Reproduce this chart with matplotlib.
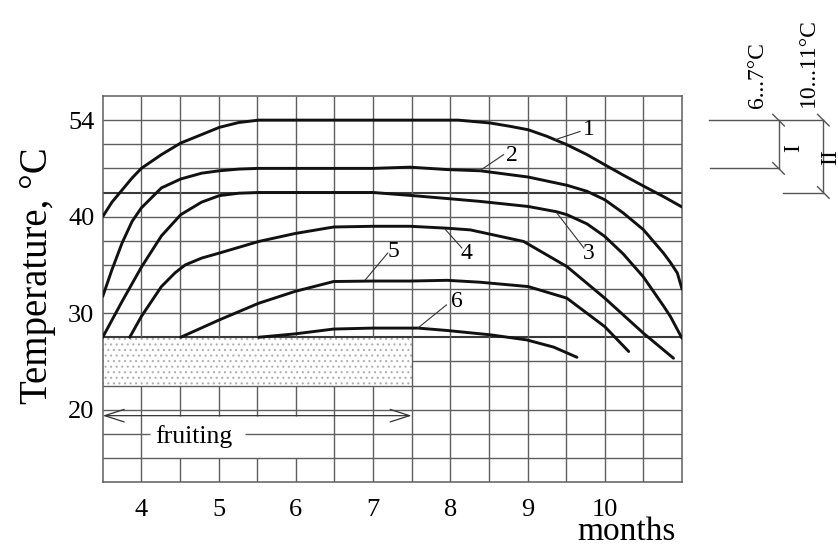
import numpy as np
import matplotlib
matplotlib.use("Agg")
import matplotlib.pyplot as plt
from matplotlib.patches import Rectangle

plt.rcParams['font.family'] = ['Liberation Serif', 'DejaVu Serif']
plt.rcParams['hatch.linewidth'] = 0.8

# ---------------- data (x in months, y in grid rows of the chart) ----------------
# y-axis is drawn in grid rows (0 = bottom, 16 = top); tick labels give temperature
ytick_rows = [15, 11, 7, 3]
ytick_labels = ["54", "40", "30", "20"]
month_ticks = [4, 5, 6, 7, 8, 9, 10]
month_labels = ["4", "5", "6", "7", "8", "9", "10"]

c1_x = [3.5, 3.62, 3.75, 3.88, 4.0, 4.26, 4.51, 4.78, 5.01, 5.26, 5.52, 8.1, 8.52, 8.78, 9.01, 9.25, 9.51, 9.77, 10.0, 10.24, 10.5, 10.76, 11.0]
c1_y = [11.0, 11.6, 12.1, 12.6, 13.0, 13.57, 14.05, 14.4, 14.7, 14.9, 15.0, 15.0, 14.88, 14.74, 14.6, 14.33, 13.98, 13.57, 13.15, 12.72, 12.27, 11.83, 11.4]

c2_x = [3.5, 3.62, 3.75, 3.88, 4.0, 4.26, 4.51, 4.78, 5.01, 5.26, 5.52, 7.0, 7.48, 7.96, 8.39, 9.01, 9.51, 9.77, 10.0, 10.24, 10.5, 10.76, 10.85, 10.94, 11.0]
c2_y = [7.69, 8.8, 9.9, 10.8, 11.36, 12.19, 12.56, 12.8, 12.9, 12.97, 13.0, 13.0, 13.05, 12.95, 12.9, 12.64, 12.3, 12.05, 11.7, 11.15, 10.46, 9.49, 9.1, 8.66, 8.0]

c3_x = [3.5, 3.75, 4.0, 4.26, 4.51, 4.78, 5.01, 5.26, 5.52, 7.0, 7.48, 7.96, 8.39, 9.01, 9.38, 9.51, 9.77, 10.0, 10.24, 10.5, 10.76, 10.85, 11.0]
c3_y = [6.0, 7.48, 8.9, 10.2, 11.08, 11.6, 11.87, 11.97, 12.0, 12.0, 11.88, 11.75, 11.63, 11.42, 11.2, 11.08, 10.7, 10.18, 9.45, 8.5, 7.3, 6.86, 5.96]

c4_x = [3.85, 4.0, 4.26, 4.44, 4.57, 4.78, 5.01, 5.52, 5.99, 6.49, 7.0, 7.48, 7.96, 8.26, 8.95, 9.51, 10.0, 10.5, 10.89]
c4_y = [6.0, 6.86, 8.1, 8.68, 9.0, 9.28, 9.49, 9.97, 10.3, 10.57, 10.6, 10.6, 10.52, 10.45, 9.97, 8.93, 7.62, 6.17, 5.13]

c5_x = [4.51, 5.01, 5.52, 5.99, 6.49, 7.0, 7.48, 7.96, 8.39, 9.01, 9.51, 10.0, 10.31]
c5_y = [6.0, 6.72, 7.41, 7.9, 8.31, 8.33, 8.33, 8.36, 8.28, 8.1, 7.62, 6.44, 5.41]

c6_x = [5.52, 5.99, 6.49, 7.0, 7.58, 7.96, 8.52, 8.99, 9.34, 9.64]
c6_y = [6.0, 6.14, 6.34, 6.38, 6.38, 6.28, 6.1, 5.89, 5.59, 5.17]

curve_names = ["1", "2", "3", "4", "5", "6"]
curves_x = [c1_x, c2_x, c3_x, c4_x, c5_x, c6_x]
curves_y = [c1_y, c2_y, c3_y, c4_y, c5_y, c6_y]

# label text position, leader start (on curve), leader end
label_pos = [(9.79, 14.6), (8.80, 13.53), (9.79, 9.49), (8.21, 9.49), (7.26, 9.56), (8.09, 7.48)]
leader_from = [(9.36, 14.19), (8.39, 12.92), (9.38, 11.15), (7.93, 10.49), (6.90, 8.38), (7.58, 6.38)]
leader_to = [(9.68, 14.53), (8.69, 13.57), (9.73, 9.70), (8.15, 9.70), (7.19, 9.49), (7.95, 7.34)]

# fruiting period (months) and stippled band (rows)
fruit_start, fruit_end = 3.5, 7.5
band_lo, band_hi = 4, 6

# ---------------- figure ----------------
W, H = 838, 548
fig = plt.figure(figsize=(W / 100, H / 100), dpi=100)
x0, x1, y0, y1 = 102.7, 682.0, 96.0, 482.0
ax = fig.add_axes([x0 / W, 1 - y1 / H, (x1 - x0) / W, (y1 - y0) / H])
ax.set_xlim(3.5, 11)
ax.set_ylim(0, 16)

gcol = '#5e5e5e'
glw = 1.0
arrow_row = 2.75
text_gap = (4.11, 5.34)

# horizontal grid lines
for r in range(1, 16):
    lw = 1.5 if r in (6, 12) else glw
    col = '#3a3a3a' if r in (6, 12) else gcol
    if r == 5:
        segs = [(fruit_end, 11)]
    elif r == 2:
        segs = [(3.5, text_gap[0]), (text_gap[1], 11)]
    else:
        segs = [(3.5, 11)]
    for a, b in segs:
        ax.plot([a, b], [r, r], color=col, lw=lw, zorder=2, solid_capstyle='butt')

# vertical grid lines
for c in np.arange(4.0, 11.0, 0.5):
    if c < fruit_end:
        if c in (4.5, 5.0, 5.5, 6.0):
            segs = [(0, 1), (arrow_row, band_lo), (band_hi, 16)]
        else:
            segs = [(0, band_lo), (band_hi, 16)]
    else:
        segs = [(0, 16)]
    for a, b in segs:
        ax.plot([c, c], [a, b], color=gcol, lw=glw, zorder=2, solid_capstyle='butt')

for s in ax.spines.values():
    s.set_color(gcol)
    s.set_linewidth(1.1)

# stippled band
ax.add_patch(Rectangle((fruit_start, band_lo), fruit_end - fruit_start, band_hi - band_lo,
                       facecolor='white', edgecolor='#b0b0b0', hatch='...', linewidth=0, zorder=1))

# curves
for xs, ys in zip(curves_x, curves_y):
    ax.plot(xs, ys, color='#111111', lw=2.1, zorder=4, solid_capstyle='round', solid_joinstyle='round')

# curve labels with leaders
for name, p, f, t in zip(curve_names, label_pos, leader_from, leader_to):
    ax.plot([f[0], t[0]], [f[1], t[1]], color='#333333', lw=0.8, zorder=4)
    ax.text(p[0], p[1], name, fontsize=17, ha='center', va='center', zorder=5)

# fruiting arrow
ax.annotate('', xy=(fruit_start, arrow_row), xytext=(fruit_end, arrow_row),
            arrowprops=dict(arrowstyle='<->,head_length=1.4,head_width=0.45', lw=0.9,
                            color='#333333', shrinkA=0, shrinkB=0), zorder=3)
ax.text(4.68, 1.87, 'fruiting', fontsize=18.5, ha='center', va='center', zorder=5)

# ticks
ax.set_xticks(month_ticks)
ax.set_xticklabels(month_labels, fontsize=19)
ax.set_yticks(ytick_rows)
ax.set_yticklabels(ytick_labels, fontsize=19)
ax.tick_params(axis='both', length=0)
ax.tick_params(axis='x', pad=12)
ax.tick_params(axis='y', pad=6)

fig.text(38 / W, 1 - 276 / H, 'Temperature, °C', rotation=90, fontsize=28, ha='center', va='center')
fig.text(626 / W, 1 - 532 / H, 'months', fontsize=24, ha='center', va='center')

# right-hand annotation (I: rows 15->13, II: rows 15->12)
acol = '#555555'
def seg(xa, ya, xb, yb):
    ax.plot([xa, xb], [ya, yb], color=acol, lw=1.0, clip_on=False, zorder=3)

xI, xII = 12.25, 12.83
seg(11.35, 15, xII, 15)
seg(11.36, 13, xI, 13)
seg(12.31, 12, xII, 12)
seg(xI, 15, xI, 13)
seg(xII, 15, xII, 12)
dx, dy = 0.075, 0.24
for (px, py) in [(xI, 15), (xI, 13), (xII, 15), (xII, 12)]:
    seg(px - dx, py + dy, px + dx, py - dy)

ax.text(11.98, 15.52, '6...7°C', rotation=90, fontsize=17, ha='center', va='bottom', clip_on=False)
ax.text(12.64, 15.56, '10...11°C', rotation=90, fontsize=17, ha='center', va='bottom', clip_on=False)
ax.text(12.44, 13.86, 'I', rotation=90, fontsize=17, ha='center', va='center', clip_on=False)
ax.text(12.93, 13.49, 'II', rotation=90, fontsize=17, ha='center', va='center', clip_on=False)

fig.savefig('out.png', dpi=100, facecolor='white')
